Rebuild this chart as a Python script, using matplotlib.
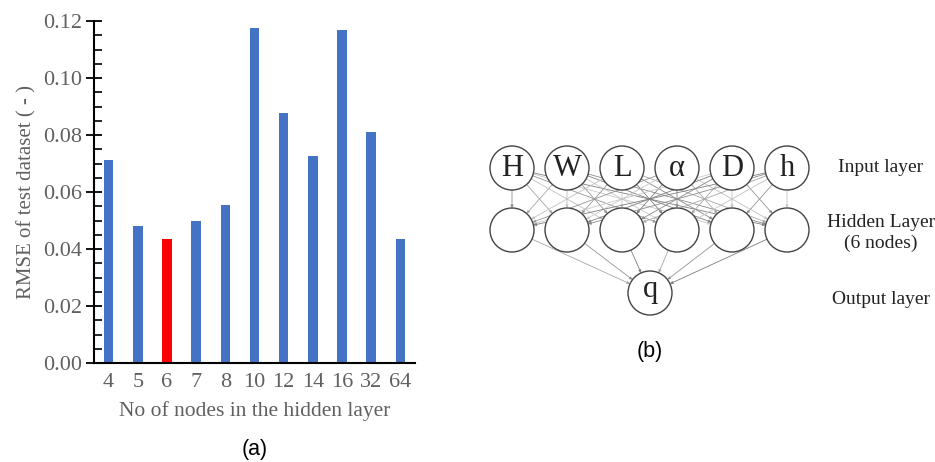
import numpy as np
import matplotlib.pyplot as plt
from matplotlib.ticker import MultipleLocator

# left panel data
nodes = ['4', '5', '6', '7', '8', '10', '12', '14', '16', '32', '64']
rmse = [0.0712, 0.0482, 0.0436, 0.0499, 0.0556, 0.1175, 0.0876, 0.0725, 0.1170, 0.0809, 0.0436]
best = '6'

# right panel labels
inputs = ['H', 'W', 'L', 'α', 'D', 'h']
n_hidden = 6
output = 'q'
layer_names = ['Input layer', 'Hidden Layer\n(6 nodes)', 'Output layer']

W, H = 935, 462
fig = plt.figure(figsize=(W / 100, H / 100), dpi=100)
serif = ['Liberation Serif', 'DejaVu Serif']
sans = ['Liberation Sans', 'DejaVu Sans']
grey = '#606060'

# bar chart
ax = fig.add_axes([94 / W, (H - 363) / H, (415 - 94) / W, (363 - 21) / H])
colors = ['#ff0000' if n == best else '#4472c4' for n in nodes]
ax.bar(range(len(nodes)), rmse, width=0.33, color=colors)
ax.set_xlim(-0.5, len(nodes) - 0.5)
ax.set_ylim(0, 0.12)
ax.set_xticks(range(len(nodes)))
ax.set_xticklabels(nodes)
ax.yaxis.set_major_locator(MultipleLocator(0.02))
ax.yaxis.set_minor_locator(MultipleLocator(0.005))
ax.set_yticklabels(['%.2f' % v for v in ax.get_yticks()])
for s in ['top', 'right']:
    ax.spines[s].set_visible(False)
for s in ['left', 'bottom']:
    ax.spines[s].set_linewidth(1.5)
ax.tick_params(axis='x', length=0, pad=7, labelsize=16, labelcolor=grey)
ax.tick_params(axis='y', which='major', direction='inout', length=11, width=1.3,
               labelsize=16, labelcolor=grey, pad=3)
ax.tick_params(axis='y', which='minor', direction='in', length=6, width=1.2)
for lab in ax.get_xticklabels() + ax.get_yticklabels():
    lab.set_family(serif)
ax.set_xlabel('No of nodes in the hidden layer', family=serif, fontsize=15.5, color=grey, labelpad=7)
ax.set_ylabel('RMSE of test dataset ( - )', family=serif, fontsize=15, color=grey, labelpad=5)
fig.text(255 / W, 1 - 450 / H, '(a)', ha='center', va='center', family=sans, fontsize=15.5)

# network diagram, drawn in pixel coordinates
ax2 = fig.add_axes([480 / W, 0, 455 / W, 1])
ax2.set_xlim(480, 935)
ax2.set_ylim(H, 0)
ax2.axis('off')

r = 22
gap = 55
x0 = 512
y_in, y_hid, y_out = 168, 230, 293
x_in = [x0 + i * gap for i in range(len(inputs))]
x_hid = [x0 + i * gap for i in range(n_hidden)]
x_out = 650


def link(p, q, shade):
    d = np.subtract(q, p)
    u = d / np.hypot(*d)
    a = np.add(p, u * r)
    b = np.subtract(q, u * r)
    ax2.annotate('', xy=b, xytext=a,
                 arrowprops=dict(arrowstyle='-|>', color=shade, lw=0.6,
                                 mutation_scale=4, shrinkA=0, shrinkB=0))


shades = ['#8a8a8a', '#a8a8a8', '#c0c0c0', '#959595', '#c8c8c8', '#7e7e7e']
for i, xi in enumerate(x_in):
    for j, xh in enumerate(x_hid):
        link((xi, y_in), (xh, y_hid), shades[(i + j) % len(shades)])
for j, xh in enumerate(x_hid):
    link((xh, y_hid), (x_out, y_out), shades[(j * 2 + 1) % len(shades)])

for xi, name in zip(x_in, inputs):
    ax2.add_patch(plt.Circle((xi, y_in), r, fc='white', ec='#444444', lw=1.0, zorder=3))
    ax2.text(xi, y_in + 1, name, ha='center', va='center', family=serif, fontsize=22,
             color='#222222', zorder=4)
for xh in x_hid:
    ax2.add_patch(plt.Circle((xh, y_hid), r, fc='white', ec='#444444', lw=1.0, zorder=3))
ax2.add_patch(plt.Circle((x_out, y_out), r, fc='white', ec='#444444', lw=1.0, zorder=3))
ax2.text(x_out, y_out - 3, output, ha='center', va='center', family=serif, fontsize=22,
         color='#222222', zorder=4)

for y, name in zip([168, 233, 299], layer_names):
    ax2.text(881, y, name, ha='center', va='center', family=serif, fontsize=14,
             color='#222222', linespacing=1.25)
ax2.text(650, 351, '(b)', ha='center', va='center', family=sans, fontsize=15.5)

fig.savefig('out.png', dpi=100)
